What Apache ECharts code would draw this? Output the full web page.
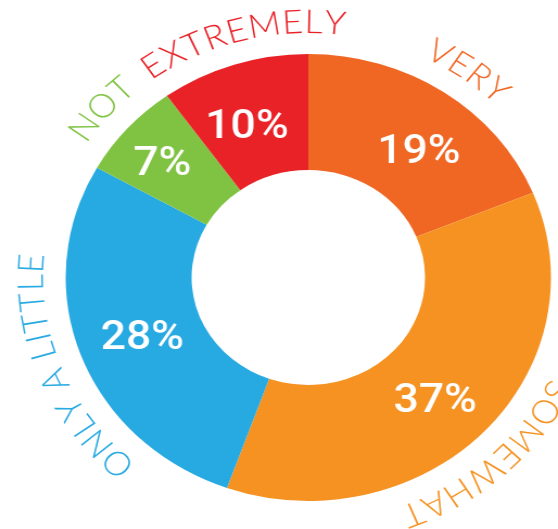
<!DOCTYPE html>
<html>
<head>
<meta charset="utf-8">
<script src="https://cdn.jsdelivr.net/npm/echarts@6/dist/echarts.min.js"></script>
<style>
html, body { margin: 0; padding: 0; background: #fff; overflow: hidden; }
#chart { width: 514px; height: 529px; transform: scaleX(1.0856); transform-origin: 0 0; }
</style>
</head>
<body>
<div id="chart"></div>
<script>
var categories = ['VERY', 'SOMEWHAT', 'ONLY A LITTLE', 'NOT', 'EXTREMELY'];
var values = [19, 37, 28, 7, 10];
var colors = ['#f06724', '#f59222', '#27a9e1', '#80c343', '#e92228'];
// nudge of each curved name along the ring, in degrees
var nameShift = [1.6, 3.5, -1.6, -0.4, 3.6];
// nudge of each percentage label, px
var pctNudge = [[8, 15], [-5, 8], [5, 2], [-9, 0], [-5, 11]];

var cx = 284, cy = 277.5;
var rIn = 107.5, rOut = 223.5;
var nameR = 255;
var nameFont = '300 33px Lato';
var spacing = 1.5;

var chart = echarts.init(document.getElementById('chart'), null, { renderer: 'canvas' });

var pieData = categories.map(function (c, i) {
	return {
		name: c,
		value: values[i],
		itemStyle: { color: colors[i] },
		label: { offset: pctNudge[i] }
	};
});

// curved names around the ring, one text element per letter
var measure = document.createElement('canvas').getContext('2d');
measure.font = nameFont;
var total = values.reduce(function (a, b) { return a + b; }, 0);
var graphics = [];
var acc = 0;
categories.forEach(function (name, i) {
	var mid = (acc + values[i] / 2) / total * 360 + nameShift[i];
	acc += values[i];
	var chars = name.split('');
	var widths = chars.map(function (ch) { return measure.measureText(ch).width; });
	var len = widths.reduce(function (a, b) { return a + b; }, 0) + spacing * (chars.length - 1);
	var s = -len / 2;
	chars.forEach(function (ch, k) {
		var pos = s + widths[k] / 2;
		s += widths[k] + spacing;
		if (ch === ' ') return;
		var a = mid * Math.PI / 180 + pos / nameR;
		graphics.push({
			type: 'text',
			silent: true,
			x: cx + nameR * Math.sin(a),
			y: cy - nameR * Math.cos(a),
			rotation: -a,
			style: {
				text: ch,
				fill: colors[i],
				font: nameFont,
				align: 'center',
				verticalAlign: 'middle'
			}
		});
	});
});

var option = {
	animation: false,
	graphic: graphics,
	series: [{
		type: 'pie',
		center: [cx, cy],
		radius: [rIn, rOut],
		startAngle: 90,
		clockwise: true,
		silent: true,
		label: {
			show: true,
			position: 'inside',
			formatter: '{c}%',
			color: '#fff',
			fontFamily: 'Roboto',
			fontWeight: 500,
			fontSize: 41
		},
		labelLine: { show: false },
		data: pieData
	}]
};
chart.setOption(option);
</script>
</body>
</html>
